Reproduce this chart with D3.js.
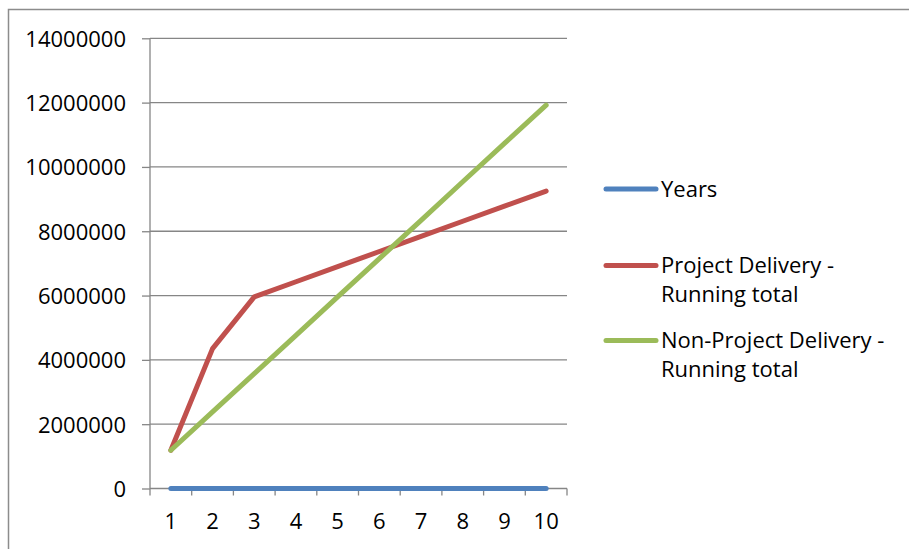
<!DOCTYPE html>
<html>
<head>
<meta charset="utf-8">
<script src="https://cdn.jsdelivr.net/npm/d3@7"></script>
<style>
  html, body { margin: 0; padding: 0; background: #fff; }
  svg { display: block; }
  text { font-family: "Open Sans", "Noto Sans", sans-serif; fill: #000; }
</style>
</head>
<body>
<svg id="chart" width="909" height="549"></svg>
<script>
// Category labels along the x axis
const years = ["1", "2", "3", "4", "5", "6", "7", "8", "9", "10"];
// Series values, one per year
const yearsSeries = [1, 2, 3, 4, 5, 6, 7, 8, 9, 10];
const projectRunning = [1190000, 4350000, 5960000, 6430000, 6900000, 7370000, 7840000, 8310000, 8780000, 9250000];
const nonProjectRunning = [1190000, 2380000, 3570000, 4760000, 5960000, 7150000, 8340000, 9540000, 10730000, 11920000];
// Value axis ticks
const yTicks = [0, 2000000, 4000000, 6000000, 8000000, 10000000, 12000000, 14000000];

const seriesNames = ["Years", "Project Delivery - Running total", "Non-Project Delivery - Running total"];
const seriesColors = ["#4f81bd", "#c0504d", "#9bbb59"];
const seriesData = [yearsSeries, projectRunning, nonProjectRunning];

const FONT = "22px";

const svg = d3.select("#chart");

// Outer chart frame
svg.append("rect")
  .attr("x", 8.5).attr("y", 9.5)
  .attr("width", 920).attr("height", 560)
  .attr("fill", "none").attr("stroke", "#8c8c8c").attr("stroke-width", 1.5);

const plot = { left: 150, right: 567, top: 38.3, bottom: 488.5 };

const x = d3.scaleBand().domain(years).range([plot.left, plot.right]);
const y = d3.scaleLinear().domain([0, 14000000]).range([plot.bottom, plot.top]);

// Horizontal gridlines
svg.append("g")
  .selectAll("line")
  .data(yTicks.slice(1))
  .join("line")
  .attr("x1", plot.left).attr("x2", plot.right)
  .attr("y1", d => y(d)).attr("y2", d => y(d))
  .attr("stroke", "#868686").attr("stroke-width", 1.3);

// Value axis
const yAxis = svg.append("g")
  .attr("transform", `translate(${plot.left},0)`)
  .call(d3.axisLeft(y).tickValues(yTicks).tickSize(8).tickPadding(16).tickFormat(d3.format("d")));
yAxis.select(".domain").attr("stroke", "#868686").attr("stroke-width", 1.3)
  .attr("d", `M0,${plot.bottom}V${plot.top}`);
yAxis.selectAll(".tick line").attr("stroke", "#868686").attr("stroke-width", 1.3);
yAxis.selectAll(".tick text")
  .style("font-size", FONT)
  .attr("dy", "0.36em");

// Category axis with ticks between categories
const xAxisG = svg.append("g").attr("transform", `translate(0,${plot.bottom})`);
xAxisG.append("line")
  .attr("x1", plot.left).attr("x2", plot.right)
  .attr("stroke", "#868686").attr("stroke-width", 1.3);
const boundaries = d3.range(years.length + 1).map(i => plot.left + i * x.step());
xAxisG.selectAll(".bt")
  .data(boundaries)
  .join("line")
  .attr("class", "bt")
  .attr("x1", d => d).attr("x2", d => d)
  .attr("y1", 0).attr("y2", 7)
  .attr("stroke", "#868686").attr("stroke-width", 1.3);
xAxisG.selectAll("text")
  .data(years)
  .join("text")
  .attr("x", d => x(d) + x.bandwidth() / 2)
  .attr("y", 40)
  .attr("text-anchor", "middle")
  .style("font-size", FONT)
  .text(d => d);

// Series lines
const line = d3.line()
  .x((d, i) => x(years[i]) + x.bandwidth() / 2)
  .y(d => y(d));

svg.append("g")
  .selectAll("path")
  .data(seriesData)
  .join("path")
  .attr("d", d => line(d))
  .attr("fill", "none")
  .attr("stroke", (d, i) => seriesColors[i])
  .attr("stroke-width", 5)
  .attr("stroke-linejoin", "round")
  .attr("stroke-linecap", "round");

// Legend
const legendItems = [
  { lines: ["Years"], lineY: 189 },
  { lines: ["Project Delivery -", "Running total"], lineY: 265.5 },
  { lines: ["Non-Project Delivery -", "Running total"], lineY: 340.5 }
];
const legend = svg.append("g");
legendItems.forEach((item, i) => {
  legend.append("line")
    .attr("x1", 606).attr("x2", 656)
    .attr("y1", item.lineY).attr("y2", item.lineY)
    .attr("stroke", seriesColors[i]).attr("stroke-width", 5)
    .attr("stroke-linecap", "round");
  const t = legend.append("text")
    .attr("x", 661)
    .attr("y", item.lineY + 7.5)
    .style("font-size", FONT);
  item.lines.forEach((s, j) => {
    t.append("tspan").attr("x", 661).attr("dy", j === 0 ? 0 : 29).text(s);
  });
});
</script>
</body>
</html>
